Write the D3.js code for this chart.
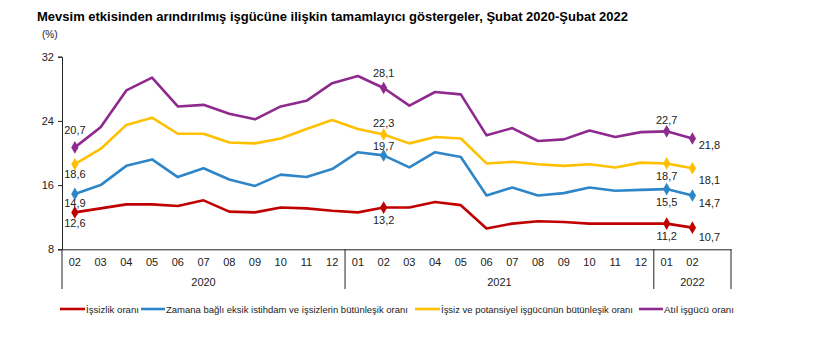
<!DOCTYPE html>
<html><head><meta charset="utf-8">
<script src="https://cdn.jsdelivr.net/npm/d3@7"></script>
<style>body{margin:0;background:#fff;} text{font-family:"Liberation Sans",Arial,sans-serif;}</style>
</head><body><svg id="c" width="820" height="357"></svg>
<script>
const months = ["02","03","04","05","06","07","08","09","10","11","12","01","02","03","04","05","06","07","08","09","10","11","12","01","02",""];
const years = [{label:"2020",count:11},{label:"2021",count:12},{label:"2022",count:3}];
const yTicks = [8,16,24,32];
const seriesNames = ["İşsizlik oranı","Zamana bağlı eksik istihdam ve işsizlerin bütünleşik oranı","İşsiz ve potansiyel işgücünün bütünleşik oranı","Atıl işgücü oranı"];
const colors = ["#C00000","#2E86C8","#FFC000","#8E2A8E"];
const issizlik = [12.6,13.1,13.6,13.6,13.4,14.1,12.7,12.6,13.2,13.1,12.8,12.6,13.2,13.2,13.9,13.5,10.6,11.2,11.5,11.4,11.2,11.2,11.2,11.2,10.7];
const zamana = [14.9,16.0,18.4,19.2,17.0,18.1,16.7,15.9,17.3,17.0,18.0,20.1,19.7,18.2,20.1,19.5,14.7,15.7,14.7,15.0,15.7,15.3,15.4,15.5,14.7];
const potansiyel = [18.6,20.5,23.5,24.4,22.4,22.4,21.3,21.2,21.8,23.0,24.1,23.0,22.3,21.2,22.0,21.8,18.7,18.9,18.6,18.4,18.6,18.2,18.8,18.7,18.1];
const atil = [20.7,23.2,27.8,29.4,25.8,26.0,24.9,24.2,25.8,26.5,28.7,29.6,28.1,25.9,27.6,27.3,22.2,23.1,21.5,21.7,22.8,22.0,22.6,22.7,21.8];
const series = [issizlik, zamana, potansiyel, atil];
const markedIdx = [0,12,23,24];
// label vertical offsets (px, text centre relative to point) for marked points; last one sits right of point
const labelDy = [
  [11,12,12,9],
  [9,-9,13,7],
  [10,-12,13,12],
  [-17,-15,-11,6]
];

const svg = d3.select("#c");
const L = 62, R = 731, T = 56.7, B = 249.3;
const x = d3.scaleBand().domain(d3.range(months.length)).range([L,R]).padding(0);
const cx = i => x(i) + x.bandwidth()/2;
const y = d3.scaleLinear().domain([8,32]).range([B,T]);

svg.append("text").attr("x",37).attr("y",21).attr("font-size",13).attr("font-weight","bold").attr("fill","#000")
  .text("Mevsim etkisinden arındırılmış işgücüne ilişkin tamamlayıcı göstergeler, Şubat 2020-Şubat 2022");
svg.append("text").attr("x",42).attr("y",38).attr("font-size",10).attr("fill","#222").text("(%)");

const yAxis = d3.axisLeft(y).tickValues(yTicks).tickSize(4).tickFormat(d3.format("d"));
const gy = svg.append("g").attr("transform",`translate(${L},0)`).call(yAxis);
gy.select(".domain").attr("stroke","#222");
gy.selectAll(".tick line").attr("stroke","#222");
gy.selectAll(".tick text").attr("font-size",11).attr("fill","#222").attr("font-family","Liberation Sans, Arial, sans-serif").attr("x",-8);

const xAxis = d3.axisBottom(x).tickSize(0).tickFormat(i => months[i]);
const gx = svg.append("g").attr("transform",`translate(0,${B})`).call(xAxis);
gx.select(".domain").attr("stroke","#222");
gx.selectAll(".tick text").attr("font-size",11).attr("fill","#222").attr("font-family","Liberation Sans, Arial, sans-serif").attr("dy","0.6em").attr("y",10);

let acc = 0;
const seps = [L];
years.forEach(g => {
  const start = acc; acc += g.count;
  const x0 = x(start), x1 = x(acc-1) + x.bandwidth();
  seps.push(x1);
  svg.append("text").attr("x",(x0+x1)/2).attr("y",286).attr("text-anchor","middle").attr("font-size",11).attr("fill","#222").text(g.label);
});
seps.forEach(sx => svg.append("line").attr("x1",sx).attr("x2",sx).attr("y1",B).attr("y2",289).attr("stroke","#222"));

const line = d3.line().x((d,i)=>cx(i)).y(d=>y(d));
series.forEach((s,k) => {
  svg.append("path").datum(s).attr("d",line).attr("fill","none").attr("stroke",colors[k]).attr("stroke-width",2.6).attr("stroke-linejoin","round");
  markedIdx.forEach((i,j) => {
    svg.append("path").attr("d",d3.symbol(d3.symbolDiamond,46)()).attr("transform",`translate(${cx(i)},${y(s[i])})`).attr("fill",colors[k]);
    let lx = cx(i), ly = y(s[i]) + labelDy[k][j] + 4;
    if (j === markedIdx.length-1) lx += 17;
    svg.append("text").attr("x",lx).attr("y",ly).attr("text-anchor","middle").attr("font-size",11).attr("fill","#222")
      .text(d3.format(".1f")(s[i]).replace(".",","));
  });
});

// legend
const legendX = [60,141,415,639];
const legendLen = [25,24,25,24];
const legendTextW = [53,242,192,70];
seriesNames.forEach((n,k) => {
  const lx = legendX[k];
  svg.append("line").attr("x1",lx).attr("x2",lx+legendLen[k]).attr("y1",309).attr("y2",309).attr("stroke",colors[k]).attr("stroke-width",2.6);
  svg.append("text").attr("x",lx+legendLen[k]+1).attr("y",312.5).attr("font-size",9.5).attr("fill","#222")
    .attr("textLength",legendTextW[k]).attr("lengthAdjust","spacingAndGlyphs").text(n);
});
</script></body></html>
